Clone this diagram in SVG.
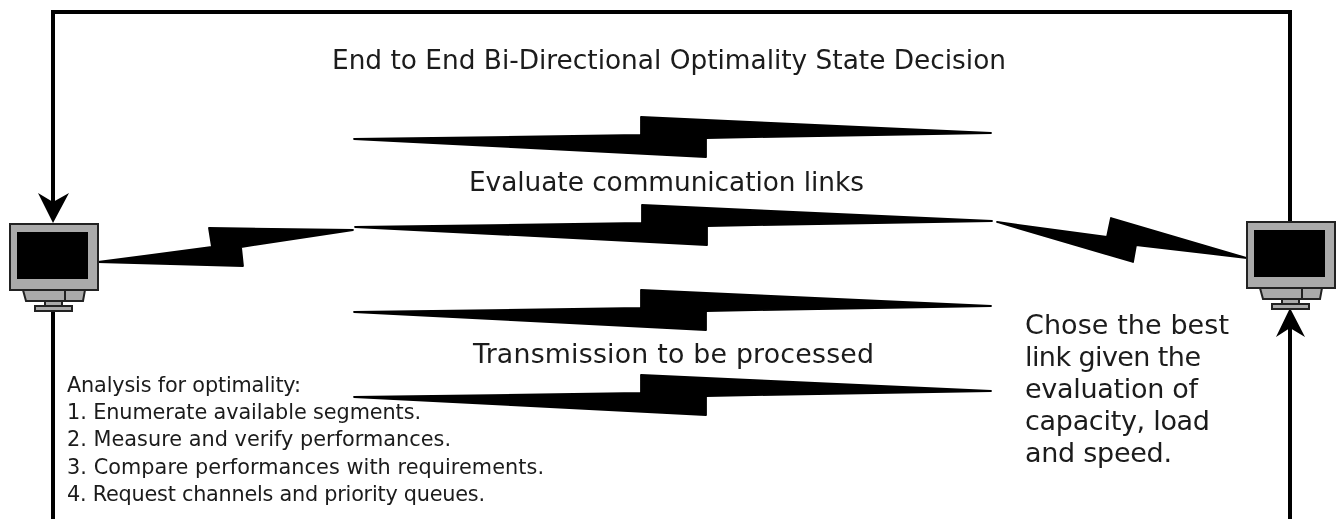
<svg xmlns="http://www.w3.org/2000/svg" width="1337" height="519" viewBox="0 0 1337 519">
<style>
.t{font-family:"DejaVu Sans",sans-serif;fill:#1a1a1a}
.b{fill:#000;stroke:#000;stroke-width:1.8;stroke-linejoin:round}
.w{fill:none;stroke:#000;stroke-width:4}
.m{fill:#aaa;stroke:#222;stroke-width:2}
</style>
<defs>
<filter id="soft" filterUnits="userSpaceOnUse" x="0" y="0" width="1337" height="519"><feGaussianBlur stdDeviation="0.4"/></filter>
<g id="monitor">
<path class="m" d="M13 66H75L73 77H16Z"/>
<path class="m" d="M55 66V77M35 77H52V82H35Z"/>
<rect class="m" x="25" y="82" width="37" height="5"/>
<rect class="m" x="0" y="0" width="88" height="66"/>
<rect x="7" y="8" width="71" height="47" fill="#000"/>
</g>
<polygon id="bolt" points="0,22 287,18 287,0 637,16 352,21 352,40"/>
</defs>
<rect width="1337" height="519" fill="#fff"/>
<g filter="url(#soft)">
<g id="connectors">
<path class="w" d="M53 205V12H1290V222"/>
<path d="M53 223L38 193L53 202L69 193Z"/>
<path class="w" d="M53 311V519"/>
<path class="w" d="M1290 325V519"/>
<path d="M1290 308L1305 337L1290 328L1276 337Z"/>
<use href="#bolt" class="b" x="354" y="117"/>
<use href="#bolt" class="b" x="355" y="205"/>
<use href="#bolt" class="b" x="354" y="290"/>
<use href="#bolt" class="b" x="354" y="375"/>
<polygon class="b" points="98,262 212,247 209,228 353,230 241,247 243,266"/>
<polygon class="b" points="997,222 1107,237 1111,218 1247,258 1136,245 1133,262"/>
</g>
<g id="monitor-left"><use href="#monitor" x="10" y="224"/></g>
<g id="monitor-right"><use href="#monitor" x="1247" y="222"/></g>
<g id="labels">
<text class="t" x="332" y="69" font-size="26.4" textLength="674">End to End Bi-Directional Optimality State Decision</text>
<text class="t" x="469" y="191" font-size="26.4" textLength="395">Evaluate communication links</text>
<text class="t" x="473" y="363" font-size="26.8" textLength="401">Transmission to be processed</text>
<g font-size="27">
<text class="t" x="1025" y="334" textLength="204">Chose the best</text>
<text class="t" x="1025" y="366" textLength="176">link given the</text>
<text class="t" x="1025" y="398" textLength="173">evaluation of</text>
<text class="t" x="1025" y="430" textLength="185">capacity, load</text>
<text class="t" x="1025" y="462" textLength="147">and speed.</text>
</g>
<g font-size="20.8">
<text class="t" x="67" y="392" textLength="234">Analysis for optimality:</text>
<text class="t" x="67" y="419" textLength="354">1. Enumerate available segments.</text>
<text class="t" x="67" y="446" textLength="384">2. Measure and verify performances.</text>
<text class="t" x="67" y="474" textLength="477">3. Compare performances with requirements.</text>
<text class="t" x="67" y="501" textLength="418">4. Request channels and priority queues.</text>
</g>
</g>
</g>
</svg>
